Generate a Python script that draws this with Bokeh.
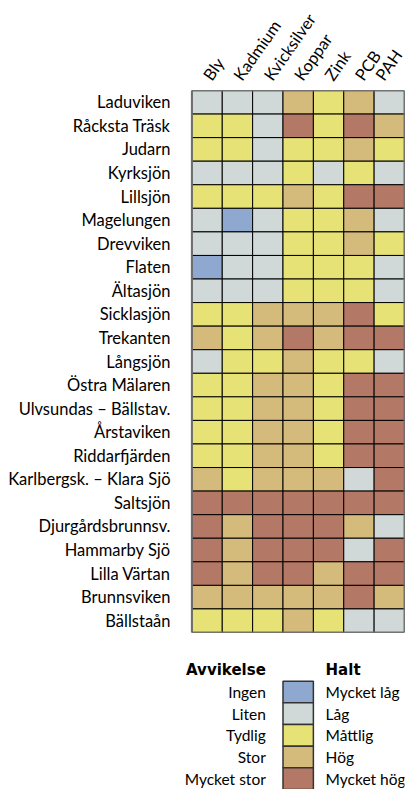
from bokeh.plotting import figure
from bokeh.models import FactorRange, ColumnDataSource, LabelSet
from bokeh.layouts import column
from bokeh.embed import file_html
from bokeh.resources import INLINE
from bokeh.core.properties import value

metals = ["Bly", "Kadmium", "Kvicksilver", "Koppar", "Zink", "PCB", "PAH"]
lakes = ["Laduviken", "Råcksta Träsk", "Judarn", "Kyrksjön", "Lillsjön",
         "Magelungen", "Drevviken", "Flaten", "Ältasjön", "Sicklasjön",
         "Trekanten", "Långsjön", "Östra Mälaren", "Ulvsundas – Bällstav.",
         "Årstaviken", "Riddarfjärden", "Karlbergsk. – Klara Sjö", "Saltsjön",
         "Djurgårdsbrunnsv.", "Hammarby Sjö", "Lilla Värtan", "Brunnsviken",
         "Bällstaån"]
halt_labels = ["Mycket låg", "Låg", "Måttlig", "Hög", "Mycket hög"]
avvikelse_labels = ["Ingen", "Liten", "Tydlig", "Stor", "Mycket stor"]
level_colors = ["#8FA8CF", "#D0D9D8", "#E6E276", "#D4BA7B", "#B47866"]

# level index per lake (rows) and substance (columns)
levels = [
    [1, 1, 1, 3, 2, 3, 1],
    [2, 2, 1, 4, 2, 4, 3],
    [2, 2, 1, 2, 2, 3, 2],
    [1, 1, 1, 2, 1, 2, 1],
    [2, 2, 2, 3, 2, 4, 4],
    [1, 0, 1, 2, 2, 3, 1],
    [1, 1, 1, 2, 2, 3, 2],
    [0, 1, 1, 2, 2, 2, 1],
    [1, 1, 1, 2, 2, 2, 1],
    [2, 2, 3, 3, 3, 4, 2],
    [3, 2, 3, 4, 3, 4, 4],
    [1, 2, 2, 3, 2, 2, 1],
    [2, 2, 3, 3, 2, 4, 4],
    [2, 2, 3, 3, 2, 4, 4],
    [2, 2, 3, 3, 2, 4, 4],
    [2, 2, 3, 3, 2, 4, 4],
    [3, 2, 3, 3, 3, 1, 4],
    [4, 4, 4, 4, 4, 4, 4],
    [4, 3, 4, 4, 4, 3, 1],
    [4, 3, 4, 4, 4, 1, 4],
    [4, 3, 4, 4, 3, 4, 4],
    [3, 3, 3, 3, 3, 4, 3],
    [2, 2, 2, 3, 2, 1, 1],
]

FONT = "Lato"
TITLE_FONT = "DejaVu Sans"
SPARE = " "  # empty column left of the grid, room for the legend texts

xs, ys, cs = [], [], []
for lake, row in zip(lakes, levels):
    for metal, lv in zip(metals, row):
        xs.append(metal)
        ys.append(lake)
        cs.append(level_colors[lv])
src = ColumnDataSource(dict(x=xs, y=ys, c=cs))

xr = FactorRange(SPARE, *metals)
p = figure(x_range=xr, y_range=FactorRange(*reversed(lakes)),
           width=406, height=634, x_axis_location="above",
           toolbar_location=None, output_backend="svg",
           min_border_left=161, min_border_right=2, min_border_top=90,
           min_border_bottom=2)
p.rect(x="x", y="y", width=1, height=1, fill_color="c", line_color="black",
       line_width=1, source=src)
# grey frame round the grid (centre column / centre row of the data)
p.rect(x=[metals[len(metals) // 2]], y=[lakes[len(lakes) // 2]],
       width=len(metals), height=len(lakes), fill_color=None,
       line_color="#6e6e6e", line_width=2)
p.grid.visible = False
p.outline_line_color = None
for ax in (p.xaxis[0], p.yaxis[0]):
    ax.axis_line_color = None
    ax.major_tick_line_color = None
    ax.minor_tick_line_color = None
    ax.major_label_text_font = FONT
    ax.major_label_text_font_size = "16.5px"
    ax.major_label_text_color = "black"
p.yaxis.major_label_standoff = -15
p.xaxis.major_label_orientation = 0.96
p.xaxis.major_label_standoff = 6

# legend: shares the x range so the swatch column sits under "Koppar"
rows = ["hdr"] + halt_labels
lg = figure(x_range=xr, y_range=FactorRange(*reversed(rows)),
            width=406, height=155, toolbar_location=None, output_backend="svg",
            min_border_left=161, min_border_right=2, min_border_top=25,
            min_border_bottom=0)
lg.axis.visible = False
lg.grid.visible = False
lg.outline_line_color = None
n = len(halt_labels)
lsrc = ColumnDataSource(dict(y=halt_labels, c=level_colors, a=avvikelse_labels,
                             sw=[metals[3]] * n, lx=[metals[2]] * n,
                             rx=[metals[4]] * n))
lg.rect(x="sw", y="y", width=1, height=1, fill_color="c",
        line_color="#333333", line_width=1.5, source=lsrc)
lg.add_layout(LabelSet(x="lx", y="y", text="a", x_offset=-2, source=lsrc,
                       text_align="right", text_baseline="middle",
                       text_font=value(FONT), text_font_size="15.5px",
                       text_color="black"))
lg.add_layout(LabelSet(x="rx", y="y", text="y", x_offset=-3, source=lsrc,
                       text_align="left", text_baseline="middle",
                       text_font=value(FONT), text_font_size="15.5px",
                       text_color="black"))
hsrc = ColumnDataSource(dict(x=[metals[2], metals[4]], y=["hdr", "hdr"],
                             t=["Avvikelse", "Halt"], o=[-2, -3],
                             al=["right", "left"]))
lg.add_layout(LabelSet(x="x", y="y", text="t", x_offset="o", source=hsrc,
                       text_align="al", text_baseline="middle",
                       text_font=value(TITLE_FONT), text_font_style="bold",
                       text_font_size="15px", text_color="black"))

layout = column(p, lg)
open("out.html", "w").write(file_html(layout, INLINE))
